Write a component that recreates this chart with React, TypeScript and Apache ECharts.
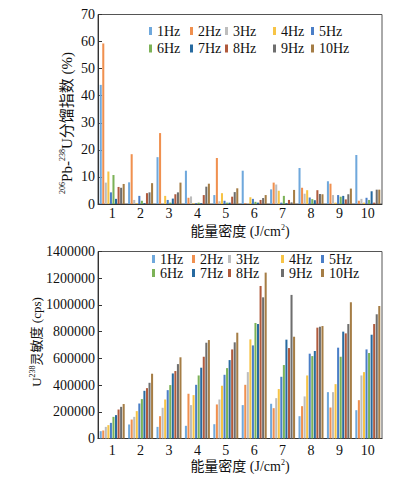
import React, { useEffect, useRef } from 'react';
import * as echarts from 'echarts';

// ---- categories ----
const energyDensity = ['1', '2', '3', '4', '5', '6', '7', '8', '9', '10'];
const frequencies = ['1Hz', '2Hz', '3Hz', '4Hz', '5Hz', '6Hz', '7Hz', '8Hz', '9Hz', '10Hz'];

// ---- top chart: 206Pb-238U fractionation index (%) ----
const frac1Hz = [44, 8.0, 17.3, 12.3, 3.3, 12.3, 5.4, 13.3, 8.4, 18.1];
const frac2Hz = [59.3, 18.4, 26.2, 2.3, 17.0, 0.3, 7.9, 6.0, 7.5, 1.2];
const frac3Hz = [7.9, 1.5, 0.3, 2.8, 1.0, 0.3, 7.2, 3.8, 3.3, 1.9];
const frac4Hz = [12.0, 0.3, 3.0, 0.3, 4.0, 2.5, 4.9, 5.1, 0.5, 0.5];
const frac5Hz = [4.3, 3.0, 1.5, 0.3, 1.2, 1.9, 0.5, 2.4, 3.3, 2.3];
const frac6Hz = [10.7, 1.2, 0.5, 0.5, 0.5, 0.8, 3.0, 1.8, 2.7, 1.5];
const frac7Hz = [1.9, 0.3, 2.0, 0.3, 0.5, 0.5, 0.3, 1.4, 3.0, 4.7];
const frac8Hz = [6.3, 4.0, 3.6, 3.3, 2.7, 1.5, 1.5, 5.1, 1.7, 0.5];
const frac9Hz = [6.0, 4.3, 4.3, 6.4, 4.4, 2.2, 0.6, 3.7, 3.6, 5.3];
const frac10Hz = [7.4, 7.7, 7.9, 7.5, 5.8, 3.3, 5.2, 3.6, 5.7, 5.3];

// ---- bottom chart: U238 sensitivity (cps) ----
const sens1Hz = [55000, 105000, 87000, 95000, 107000, 250000, 260000, 167000, 347000, 212000];
const sens2Hz = [60000, 142000, 167000, 335000, 255000, 402000, 227000, 242000, 232000, 287000];
const sens3Hz = [87000, 162000, 230000, 250000, 292000, 497000, 302000, 315000, 347000, 472000];
const sens4Hz = [100000, 205000, 292000, 325000, 395000, 742000, 370000, 472000, 407000, 497000];
const sens5Hz = [117000, 262000, 362000, 402000, 477000, 697000, 462000, 635000, 680000, 667000];
const sens6Hz = [162000, 295000, 400000, 472000, 527000, 865000, 550000, 617000, 612000, 640000];
const sens7Hz = [175000, 357000, 487000, 530000, 587000, 857000, 740000, 655000, 800000, 777000];
const sens8Hz = [217000, 377000, 505000, 612000, 667000, 1142000, 677000, 830000, 787000, 857000];
const sens9Hz = [237000, 417000, 557000, 717000, 720000, 1057000, 1075000, 837000, 857000, 930000];
const sens10Hz = [258000, 485000, 608000, 737000, 792000, 1242000, 762000, 842000, 1020000, 992000];

const fracSeries = [frac1Hz, frac2Hz, frac3Hz, frac4Hz, frac5Hz, frac6Hz, frac7Hz, frac8Hz, frac9Hz, frac10Hz];
const sensSeries = [sens1Hz, sens2Hz, sens3Hz, sens4Hz, sens5Hz, sens6Hz, sens7Hz, sens8Hz, sens9Hz, sens10Hz];

const seriesColors = ['#6FA8DC', '#F0904F', '#BDBDBD', '#F7C446', '#4A7EC7', '#7CB257', '#276AA0', '#B05A3C', '#6E6E6E', '#A57D45'];

const FONT = "'Liberation Serif', 'Times New Roman', 'Noto Sans CJK SC', serif";

const legendColsTop = [150, 191, 226, 274, 312];
const legendRowsTop = [24, 41.5];
const legendColsBottom = [153, 193, 229, 282, 322];
const legendRowsBottom = [252, 266];

function buildLegends(cols: number[], rows: number[]) {
  return frequencies.map((f, k) => ({
    data: [f],
    left: cols[k % 5] - 1,
    top: rows[Math.floor(k / 5)],
    icon: 'rect',
    itemWidth: 3,
    itemHeight: 8,
    padding: 0,
    selectedMode: false,
    textStyle: { fontSize: 14, fontFamily: FONT, color: '#111' },
  }));
}

export default function App() {
  const ref = useRef<HTMLDivElement>(null);

  useEffect(() => {
    if (!ref.current) return;
    const chart = echarts.init(ref.current, undefined, { renderer: 'svg' });

    const xName = '{a|能量密度 (J/cm}{s|2}{a|)}';
    const xRich = {
      a: { fontSize: 14, fontFamily: FONT, color: '#111', lineHeight: 16 },
      s: { fontSize: 8, fontFamily: FONT, color: '#111', verticalAlign: 'top', lineHeight: 16 },
    };

    const makeX = (i: number) => ({
      type: 'category',
      gridIndex: i,
      data: energyDensity,
      axisLine: { lineStyle: { color: '#333', width: 1 } },
      axisTick: { show: false },
      axisLabel: { color: '#111', fontSize: 14, fontFamily: FONT, margin: i === 0 ? 2 : 5 },
      name: xName,
      nameLocation: 'middle',
      nameGap: i === 0 ? 19 : 20,
      nameTextStyle: { rich: xRich },
    });

    const makeY = (i: number, max: number, interval: number) => ({
      type: 'value',
      gridIndex: i,
      min: 0,
      max,
      interval,
      axisLine: { show: true, lineStyle: { color: '#333', width: 1 } },
      axisTick: { show: true, inside: true, length: 4, lineStyle: { color: '#333' } },
      splitLine: { show: false },
      axisLabel: {
        color: '#111',
        fontSize: 14,
        fontFamily: FONT,
        margin: 3,
        formatter: (v: number) => String(v),
      },
    });

    const series: any[] = [];
    frequencies.forEach((f, k) => {
      series.push({
        name: f,
        type: 'bar',
        xAxisIndex: 0,
        yAxisIndex: 0,
        data: fracSeries[k],
        barGap: '25%',
        barCategoryGap: '12%',
        itemStyle: { color: seriesColors[k] },
      });
    });
    frequencies.forEach((f, k) => {
      series.push({
        name: f,
        type: 'bar',
        xAxisIndex: 1,
        yAxisIndex: 1,
        data: sensSeries[k],
        barGap: '25%',
        barCategoryGap: '12%',
        itemStyle: { color: seriesColors[k] },
      });
    });

    const supRichG = (size: number) => ({
      a: { fontSize: size, fontFamily: FONT, fill: '#111', color: '#111', lineHeight: size + 2 },
      s: { fontSize: 8, fontFamily: FONT, fill: '#111', color: '#111', verticalAlign: 'top', lineHeight: size + 2 },
    });

    chart.setOption({
      animation: false,
      backgroundColor: '#ffffff',
      color: seriesColors,
      textStyle: { fontFamily: FONT },
      grid: [
        { left: 98, top: 14.5, width: 284, height: 189.5, show: true, borderColor: '#555', borderWidth: 1, backgroundColor: 'transparent', containLabel: false },
        { left: 98, top: 251.5, width: 284, height: 187, show: true, borderColor: '#555', borderWidth: 1, backgroundColor: 'transparent', containLabel: false },
      ],
      legend: [...buildLegends(legendColsTop, legendRowsTop), ...buildLegends(legendColsBottom, legendRowsBottom)],
      xAxis: [makeX(0), makeX(1)],
      yAxis: [makeY(0, 70, 10), makeY(1, 1400000, 200000)],
      series,
      graphic: [
        {
          type: 'text',
          x: 67,
          y: 123,
          rotation: Math.PI / 2,
          style: {
            text: '{s|206}{a|Pb-}{s|238}{a|U分馏指数 (%)}',
            rich: supRichG(15),
            align: 'center',
            verticalAlign: 'middle',
            fill: '#111',
          },
        },
        {
          type: 'text',
          x: 36,
          y: 342,
          rotation: Math.PI / 2,
          style: {
            text: '{a|U}{s|238}{a|灵敏度 (cps)}',
            rich: supRichG(13),
            align: 'center',
            verticalAlign: 'middle',
            fill: '#111',
          },
        },
      ],
    });

    return () => chart.dispose();
  }, []);

  return (
    <div
      ref={ref}
      style={{ position: 'fixed', left: 0, top: 0, width: 396, height: 483, background: '#fff' }}
    />
  );
}
